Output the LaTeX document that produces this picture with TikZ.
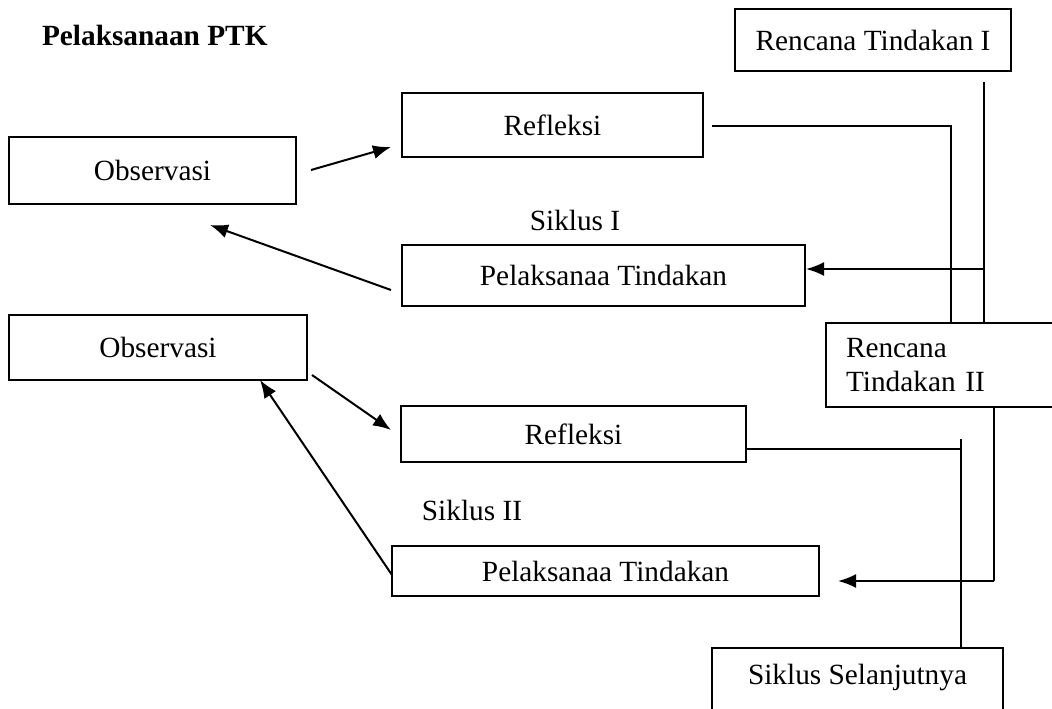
\documentclass[tikz,border=0pt]{standalone}
\usepackage{fontspec}
\setmainfont{Liberation Serif}
\usetikzlibrary{arrows.meta,calc}
\begin{document}
\begin{tikzpicture}[x=0.5pt,y=-0.5pt,
  font=\fontsize{14.65}{16.5}\selectfont,
  box/.style={draw, line width=1pt, inner sep=0pt},
  conn/.style={line width=1pt},
  arr/.style={conn, -{Latex[length=9pt,width=7pt]}}]
\useasboundingbox (0,0) rectangle (1052,708);
\clip (0,0) rectangle (1052,708);

% title
\node[anchor=base west, font=\fontsize{14.65}{16.5}\selectfont\bfseries] (title) at (35,45) {Pelaksanaan PTK};

% boxes
\node[box, minimum width=138pt, minimum height=31pt] (rt1) at (873,40) {Rencana Tindakan I};
\node[box, minimum width=143.5pt, minimum height=33.5pt] (obs1) at (152.5,170.5) {Observasi};
\node[box, minimum width=150.5pt, minimum height=32pt] (ref1) at (552.5,125) {Refleksi};
\node[box, minimum width=201.5pt, minimum height=30.5pt] (pel1) at (603.5,275.5) {Pelaksanaa Tindakan};
\node (sik1) at (575,220) {Siklus I};

\node[box, minimum width=149pt, minimum height=32.5pt] (obs2) at (158,347.5) {Observasi};
\node[box, minimum width=172.5pt, minimum height=28pt] (ref2) at (573.5,434) {Refleksi};
\node[box, minimum width=213.5pt, minimum height=25pt] (pel2) at (605.5,571) {Pelaksanaa Tindakan};
\node (sik2) at (472,510) {Siklus II};

\node[box, anchor=north west, text width=112.5pt, inner xsep=10pt, inner ysep=0pt,
      minimum height=42pt, align=left,
      font=\fontsize{14.65}{17}\selectfont] (rt2) at (825,322) {Rencana\\Tindakan II};

\node[box, anchor=north, minimum width=145.5pt, minimum height=41.5pt] (sel) at (857.5,647) {};
\node (seltext) at (857.5,677) {Siklus Selanjutnya};

% free-end coordinates
\coordinate (v1) at (984,82);
\coordinate (a1) at (984,269);
\coordinate (r1s) at (712,126);
\coordinate (r1e) at (951,322);
\coordinate (a2) at (994,581);
\coordinate (a2e) at (838,581);
\coordinate (r2e) at (961,449);
\coordinate (r2t) at (961,439);
\coordinate (o1s) at (311,170);
\coordinate (o1e) at (391,147);
\coordinate (p1s) at (391,290);
\coordinate (p1e) at (210,225);
\coordinate (o2s) at (312,375);
\coordinate (o2e) at (391,430);
\coordinate (p2s) at (392,575);
\coordinate (p2e) at (260,380);

% connectors
\draw[conn] (v1) -- (v1 |- rt2.north);
\draw[arr] (a1) -- (a1 -| pel1.east);
\draw[conn] (r1s) -| (r1e);
\draw[conn] (a2 |- rt2.south) -- (a2);
\draw[arr] (a2) -- (a2e);
\draw[conn] (ref2.east |- r2e) -- (r2e);
\draw[conn] (r2t) -- (r2t |- sel.north);

\draw[arr] (o1s) -- (o1e);
\draw[arr] (p1s) -- (p1e);
\draw[arr] (o2s) -- (o2e);
\draw[arr] (p2s) -- (p2e);
\end{tikzpicture}
\end{document}
